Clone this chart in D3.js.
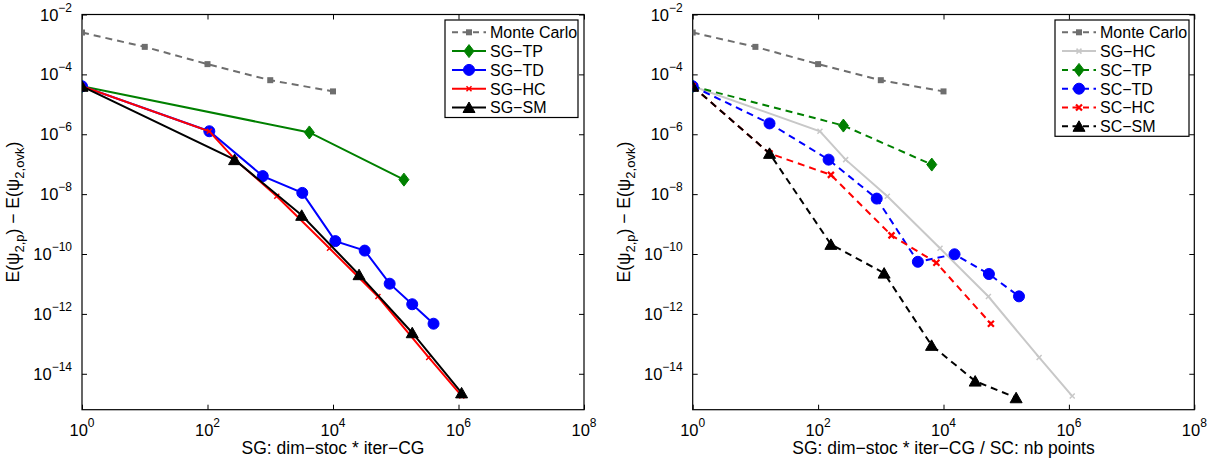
<!DOCTYPE html>
<html>
<head>
<meta charset="utf-8">
<script src="https://cdn.jsdelivr.net/npm/d3@7"></script>
<style>
  html, body { margin: 0; padding: 0; background: #fff; }
  svg { display: block; font-family: "Liberation Sans", Arial, sans-serif; }
</style>
</head>
<body>
<svg id="chart" width="1218" height="465"></svg>
<script>
// ---- data -------------------------------------------------------------
const xTickExps = [0, 2, 4, 6, 8];
const yTickExps = [-2, -4, -6, -8, -10, -12, -14];

// Monte Carlo reference (both panels)
const mcX = [1, 10, 100, 1000, 10000];
const mcY = [2.5e-3, 8.3e-4, 2.2e-4, 6.4e-5, 2.7e-5];

// stochastic Galerkin
const sgTpX = [1, 4200, 1.35e5];
const sgTpY = [4.0e-5, 1.15e-6, 3.05e-8];
const sgTdX = [1, 107, 760, 3240, 1.09e4, 3.2e4, 8.0e4, 1.83e5, 4.0e5];
const sgTdY = [4.0e-5, 1.26e-6, 4.0e-8, 1.1e-8, 2.7e-10, 1.3e-10, 1.02e-11, 2.1e-12, 4.7e-13];
const sgHcX = [1, 107, 275, 1270, 8800, 5.2e4, 3.35e5, 1.13e6];
const sgHcY = [4.0e-5, 1.26e-6, 1.42e-7, 8.5e-9, 1.55e-10, 3.8e-12, 3.5e-14, 1.8e-15];
const sgSmX = [1, 270, 3170, 2.6e4, 1.83e5, 1.12e6];
const sgSmY = [4.0e-5, 1.42e-7, 1.96e-9, 2.04e-11, 2.35e-13, 2.3e-15];

// stochastic collocation
const scTpX = [1, 253, 6500];
const scTpY = [4.0e-5, 1.95e-6, 9.7e-8];
const scTdX = [1, 16.8, 147, 861, 3900, 1.5e4, 5.3e4, 1.6e5];
const scTdY = [4.0e-5, 2.3e-6, 1.42e-7, 7.1e-9, 5.5e-11, 9.8e-11, 2.15e-11, 3.85e-12];
const scHcX = [1, 16.8, 160, 1480, 7700, 5.7e4];
const scHcY = [4.0e-5, 2.3e-7, 4.4e-8, 4.2e-10, 5.1e-11, 4.7e-13];
const scSmX = [1, 16.8, 160, 1130, 6450, 3.2e4, 1.44e5];
const scSmY = [4.0e-5, 2.3e-7, 2.1e-10, 2.3e-11, 8.9e-14, 5.7e-15, 1.58e-15];

const xLabelLeft = "SG: dim\u2212stoc * iter\u2212CG";
const xLabelRight = "SG: dim\u2212stoc * iter\u2212CG / SC: nb points";

// ---- styles -----------------------------------------------------------
const GRAY = "#6e6e6e", GREEN = "#008000", BLUE = "#0000ff", RED = "#ff0000",
      BLACK = "#000000", LIGHT = "#c8c8c8";
const DASH = "7,5";

const leftSeries = [
  { name: "Monte Carlo", xs: mcX, ys: mcY, color: GRAY, dash: DASH, marker: "square" },
  { name: "SG\u2212TP", xs: sgTpX, ys: sgTpY, color: GREEN, dash: null, marker: "diamond" },
  { name: "SG\u2212TD", xs: sgTdX, ys: sgTdY, color: BLUE, dash: null, marker: "circle" },
  { name: "SG\u2212HC", xs: sgHcX, ys: sgHcY, color: RED, dash: null, marker: "x" },
  { name: "SG\u2212SM", xs: sgSmX, ys: sgSmY, color: BLACK, dash: null, marker: "triangle" }
];
const rightSeries = [
  { name: "Monte Carlo", xs: mcX, ys: mcY, color: GRAY, dash: DASH, marker: "square" },
  { name: "SG\u2212HC", xs: sgHcX, ys: sgHcY, color: LIGHT, dash: null, marker: "x" },
  { name: "SC\u2212TP", xs: scTpX, ys: scTpY, color: GREEN, dash: DASH, marker: "diamond" },
  { name: "SC\u2212TD", xs: scTdX, ys: scTdY, color: BLUE, dash: DASH, marker: "circle" },
  { name: "SC\u2212HC", xs: scHcX, ys: scHcY, color: RED, dash: DASH, marker: "xbold" },
  { name: "SC\u2212SM", xs: scSmX, ys: scSmY, color: BLACK, dash: DASH, marker: "triangle" }
];

const svg = d3.select("#chart");

function drawMarker(g, type, cx, cy, color) {
  switch (type) {
    case "square":
      g.append("rect").attr("x", cx - 3).attr("y", cy - 3).attr("width", 6).attr("height", 6)
        .attr("fill", color);
      break;
    case "diamond":
      g.append("path").attr("d", `M${cx},${cy - 6.5}L${cx + 5},${cy}L${cx},${cy + 6.5}L${cx - 5},${cy}Z`)
        .attr("fill", color).attr("stroke", color).attr("stroke-width", 1);
      break;
    case "circle":
      g.append("circle").attr("cx", cx).attr("cy", cy).attr("r", 5.5)
        .attr("fill", color).attr("stroke", color).attr("stroke-width", 1);
      break;
    case "triangle":
      g.append("path").attr("d", `M${cx},${cy - 5.5}L${cx + 6},${cy + 5}L${cx - 6},${cy + 5}Z`)
        .attr("fill", color).attr("stroke", color).attr("stroke-width", 1);
      break;
    case "x":
    case "xbold": {
      const s = type === "x" ? 2.5 : 3;
      g.append("path").attr("d", `M${cx - s},${cy - s}L${cx + s},${cy + s}M${cx - s},${cy + s}L${cx + s},${cy - s}`)
        .attr("stroke", color).attr("stroke-width", type === "x" ? 1.5 : 2.2).attr("fill", "none");
      break;
    }
  }
}

function panel(opts) {
  const { left, right, top, bottom, series, xLabel, legend } = opts;
  const x = d3.scaleLog().domain([1, 1e8]).range([left, right]);
  const y = d3.scaleLog().domain([Math.pow(10, -15.2), 1e-2]).range([bottom, top]);
  const g = svg.append("g");

  // inward ticks on all four sides
  const xt = xTickExps.map(e => Math.pow(10, e));
  const yt = yTickExps.map(e => Math.pow(10, e));
  const styleAxis = sel => {
    sel.select(".domain").remove();
    sel.selectAll(".tick line").attr("stroke", "#000").attr("stroke-width", 1);
  };
  g.append("g").attr("transform", `translate(0,${bottom})`)
    .call(d3.axisBottom(x).tickValues(xt).tickSize(-5).tickFormat("")).call(styleAxis);
  g.append("g").attr("transform", `translate(0,${top})`)
    .call(d3.axisTop(x).tickValues(xt).tickSize(-5).tickFormat("")).call(styleAxis);
  g.append("g").attr("transform", `translate(${left},0)`)
    .call(d3.axisLeft(y).tickValues(yt).tickSize(-5).tickFormat("")).call(styleAxis);
  g.append("g").attr("transform", `translate(${right},0)`)
    .call(d3.axisRight(y).tickValues(yt).tickSize(-5).tickFormat("")).call(styleAxis);

  g.append("rect").attr("x", left).attr("y", top).attr("width", right - left).attr("height", bottom - top)
    .attr("fill", "none").attr("stroke", "#000").attr("stroke-width", 1.2);

  // tick labels with superscript exponents
  xTickExps.forEach(e => {
    const t = g.append("text").attr("x", x(Math.pow(10, e))).attr("y", bottom + 26.5)
      .attr("text-anchor", "middle").attr("font-size", 16.5).attr("fill", "#000");
    t.append("tspan").text("10");
    t.append("tspan").attr("dy", -9).attr("font-size", 12).text(String(e));
  });
  yTickExps.forEach(e => {
    const t = g.append("text").attr("x", left - 10).attr("y", y(Math.pow(10, e)) + 6)
      .attr("text-anchor", "end").attr("font-size", 16.5).attr("fill", "#000");
    t.append("tspan").text("10");
    t.append("tspan").attr("dy", -9).attr("font-size", 12).text("\u2212" + String(-e));
  });

  // axis titles
  g.append("text").attr("x", (left + right) / 2).attr("y", bottom + 44.5)
    .attr("text-anchor", "middle").attr("font-size", 17.5).text(xLabel);
  const yl = g.append("text")
    .attr("transform", `translate(${left - 63},${(top + bottom) / 2}) rotate(-90)`)
    .attr("text-anchor", "middle").attr("font-size", 17.5);
  yl.append("tspan").text("E(\u03c8");
  yl.append("tspan").attr("dy", 5).attr("font-size", 13).text("2,p");
  yl.append("tspan").attr("dy", -5).text(") \u2212 E(\u03c8");
  yl.append("tspan").attr("dy", 5).attr("font-size", 13).text("2,ovk");
  yl.append("tspan").attr("dy", -5).text(")");

  // series
  const clipId = "clip" + Math.round(left);
  svg.append("clipPath").attr("id", clipId).append("rect")
    .attr("x", left).attr("y", top).attr("width", right - left).attr("height", bottom - top);
  const plot = g.append("g").attr("clip-path", `url(#${clipId})`);
  const line = d3.line().x(d => x(d[0])).y(d => y(d[1]));
  series.forEach(s => {
    const pts = s.xs.map((v, i) => [v, s.ys[i]]);
    const sg = plot.append("g");
    sg.append("path").attr("d", line(pts)).attr("fill", "none").attr("stroke", s.color)
      .attr("stroke-width", 2).attr("stroke-dasharray", s.dash);
    pts.forEach(p => drawMarker(sg, s.marker, x(p[0]), y(p[1]), s.color));
  });

  // legend
  const L = legend;
  const rowH = 18.8;
  const lg = g.append("g");
  lg.append("rect").attr("x", L.x).attr("y", L.y).attr("width", L.w)
    .attr("height", series.length * rowH + 3.5)
    .attr("fill", "#fff").attr("stroke", "#000").attr("stroke-width", 1.2);
  series.forEach((s, i) => {
    const cy = L.y + 12.3 + i * rowH;
    const x0 = L.x + 7, x1 = L.x + 41;
    lg.append("line").attr("x1", x0).attr("x2", x1).attr("y1", cy).attr("y2", cy)
      .attr("stroke", s.color).attr("stroke-width", 2).attr("stroke-dasharray", s.dash ? "6,4.5" : null);
    drawMarker(lg, s.marker, (x0 + x1) / 2, cy, s.color);
    lg.append("text").attr("x", L.x + 45).attr("y", cy + 5.8).attr("font-size", 16).text(s.name);
  });
}

panel({ left: 82, right: 584, top: 14.5, bottom: 409.7, series: leftSeries, xLabel: xLabelLeft,
        legend: { x: 445, y: 20, w: 133 } });
panel({ left: 692.7, right: 1194.3, top: 14.5, bottom: 409.7, series: rightSeries, xLabel: xLabelRight,
        legend: { x: 1055, y: 20, w: 134 } });
</script>
</body>
</html>
